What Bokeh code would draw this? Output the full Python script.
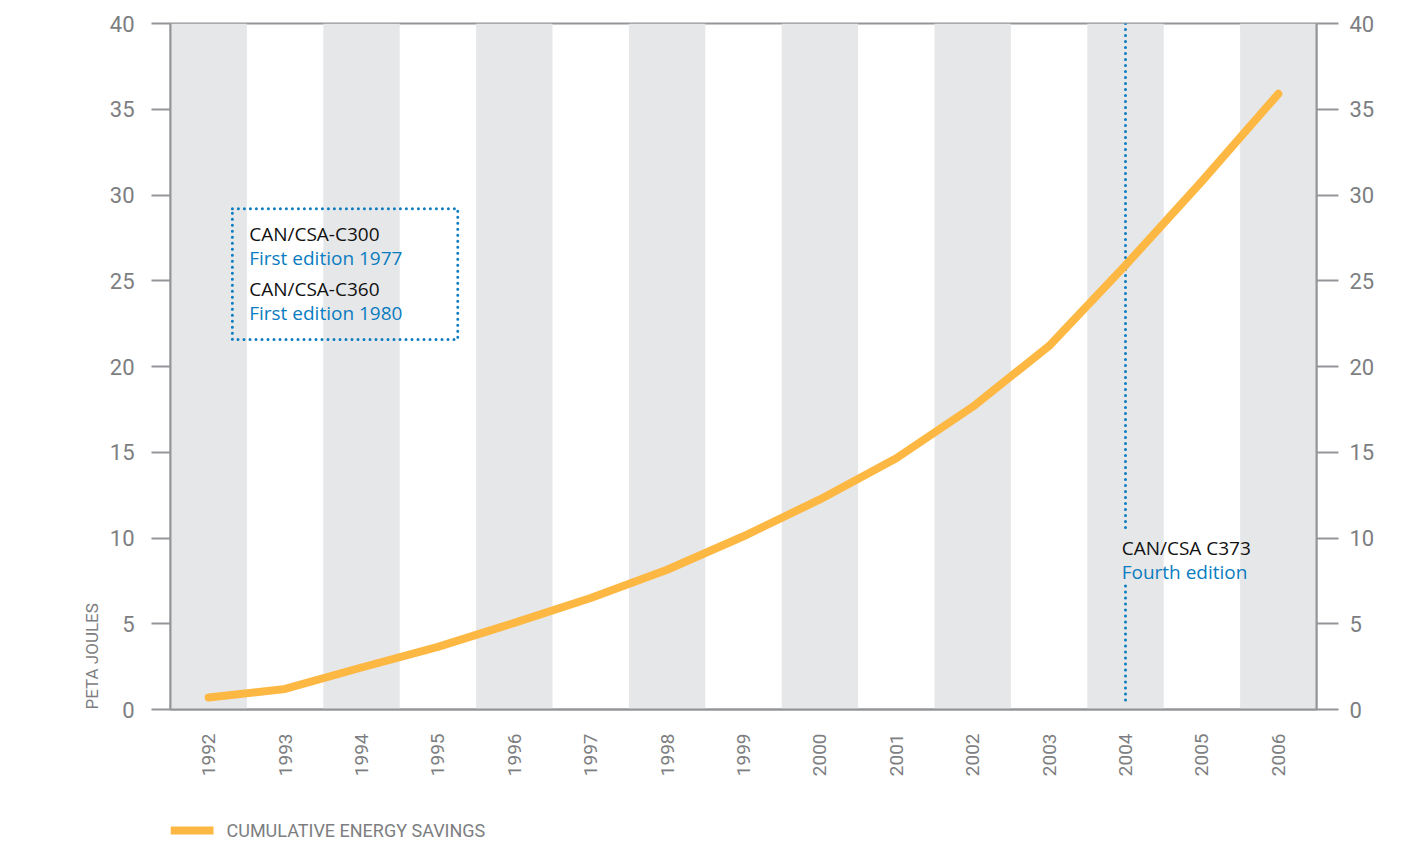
import math
from bokeh.plotting import figure
from bokeh.layouts import column
from bokeh.models import Range1d, LinearAxis, FixedTicker, Label, Title
from bokeh.embed import file_html
from bokeh.resources import INLINE

# ---- data ----
years = [1992, 1993, 1994, 1995, 1996, 1997, 1998, 1999, 2000, 2001, 2002, 2003, 2004, 2005, 2006]
savings = [0.7, 1.2, 2.45, 3.65, 5.05, 6.5, 8.15, 10.1, 12.25, 14.65, 17.65, 21.2, 25.9, 30.8, 35.9]
y_ticks = [0, 5, 10, 15, 20, 25, 30, 35, 40]
band_years = years[::2]
series_name = "CUMULATIVE ENERGY SAVINGS"
y_title = "PETA JOULES"
box_lines = [("CAN/CSA-C300", "black"), ("First edition 1977", "blue"),
             ("CAN/CSA-C360", "black"), ("First edition 1980", "blue")]
marker_year = 2004
marker_lines = [("CAN/CSA C373", "black"), ("Fourth edition", "blue")]

# ---- style ----
AXIS = "#939598"
LABEL = "#7d7e81"
BAND = "#e6e7e8"
ORANGE = "#fdb843"
BLUE = "#0a7cc1"
INK = "#111111"

W, H = 1396, 790
p = figure(width=W, height=H, x_range=Range1d(1991.5, 2006.5), y_range=Range1d(0, 40),
           output_backend="svg", toolbar_location=None, title=None,
           min_border_left=170, min_border_right=W - 170 - 1146, min_border_top=23,
           min_border_bottom=H - 23 - 686,
           y_axis_location=None, x_axis_location=None)
p.background_fill_color = "white"
p.border_fill_color = "white"
p.outline_line_color = AXIS
p.outline_line_width = 2
p.xgrid.visible = False
p.ygrid.visible = False

# alternating bands
p.vbar(x=band_years, top=40, bottom=0, width=1.0, fill_color=BAND, line_color=None)

# axes
for side in ("left", "right"):
    ax = LinearAxis(ticker=FixedTicker(ticks=y_ticks))
    ax.axis_line_color = AXIS
    ax.axis_line_width = 2
    ax.major_tick_line_color = AXIS
    ax.major_tick_line_width = 2
    ax.major_tick_in = 0
    ax.major_tick_out = 19 if side == "left" else 22
    ax.minor_tick_line_color = None
    ax.major_label_text_font = "Roboto"
    ax.major_label_text_font_size = "22px"
    ax.major_label_text_color = LABEL
    ax.major_label_standoff = 17 if side == "left" else 11
    p.add_layout(ax, side)

# empty spacer axis that pushes the y title further left
spacer = LinearAxis(ticker=FixedTicker(ticks=[]))
spacer.axis_line_color = None
spacer.major_tick_line_color = None
spacer.minor_tick_line_color = None
spacer.major_label_text_color = None
spacer.major_tick_in = 0
spacer.major_tick_out = 52
p.add_layout(spacer, "left")

# y title, starting at the bottom of the axis
p.add_layout(Title(text=y_title, align="left", text_font="Roboto",
                   text_font_size="17px", text_font_style="normal", text_color=LABEL,
                   standoff=10), "left")

xax = LinearAxis(ticker=FixedTicker(ticks=years))
xax.major_label_overrides = {y: str(y) for y in years}
xax.axis_line_color = AXIS
xax.axis_line_width = 2
xax.major_tick_line_color = None
xax.minor_tick_line_color = None
xax.major_tick_out = 0
xax.major_tick_in = 0
xax.major_label_orientation = math.pi / 2
xax.major_label_standoff = 24
xax.major_label_text_font = "Roboto"
xax.major_label_text_font_size = "19px"
xax.major_label_text_color = LABEL
p.add_layout(xax, "below")

# marker line (interrupted by its label)
mk_top, mk_gap_hi, mk_gap_lo, mk_bot = 40, 10.4, 7.2, 0.25
p.line([marker_year, marker_year], [mk_top, mk_gap_hi], line_color=BLUE, line_width=3,
       line_dash="0 6", line_cap="round")
p.line([marker_year, marker_year], [mk_gap_lo, mk_bot], line_color=BLUE, line_width=3,
       line_dash="0 6", line_cap="round")

# annotation box
bx0, bx1, by0, by1 = 1992.31, 1995.26, 21.57, 29.2
p.line([bx0, bx1, bx1, bx0, bx0], [by1, by1, by0, by0, by1], line_color=BLUE, line_width=3,
       line_dash="0 6", line_cap="round")

# data line
r = p.line(years, savings, line_color=ORANGE, line_width=8, line_cap="round", line_join="round")

# box texts
box_x = 1992.53
box_ys = [27.7, 26.3, 24.5, 23.1]
for (txt, kind), yy in zip(box_lines, box_ys):
    p.add_layout(Label(x=box_x, y=yy, text=txt, text_font="Open Sans", text_font_size="19px",
                       text_color=INK if kind == "black" else BLUE, text_baseline="middle",
                       text_align="left"))
mk_x = 2003.95
mk_ys = [9.39, 7.99]
for (txt, kind), yy in zip(marker_lines, mk_ys):
    p.add_layout(Label(x=mk_x, y=yy, text=txt, text_font="Open Sans", text_font_size="19px",
                       text_color=INK if kind == "black" else BLUE, text_baseline="middle",
                       text_align="left"))

# ---- legend strip (separate small figure below the chart; its frame aligns with the chart's) ----
LH = 50
lg = figure(width=W, height=LH, x_range=Range1d(170, 1316), y_range=Range1d(0, LH),
            output_backend="svg", toolbar_location=None, title=None,
            min_border=0, x_axis_location=None, y_axis_location=None)
lg.outline_line_color = None
lg.xgrid.visible = False
lg.ygrid.visible = False
lg_y = 10
lg.line([170, 213], [lg_y, lg_y], line_color=ORANGE, line_width=8, line_cap="butt")
lg.text(x=[226], y=[lg_y], text=[series_name], text_font={"value": "Roboto"},
        text_font_size="18px", text_color=LABEL, text_baseline="middle", text_align="left")

layout = column(p, lg, spacing=0)
open("out.html", "w").write(file_html(layout, INLINE))
